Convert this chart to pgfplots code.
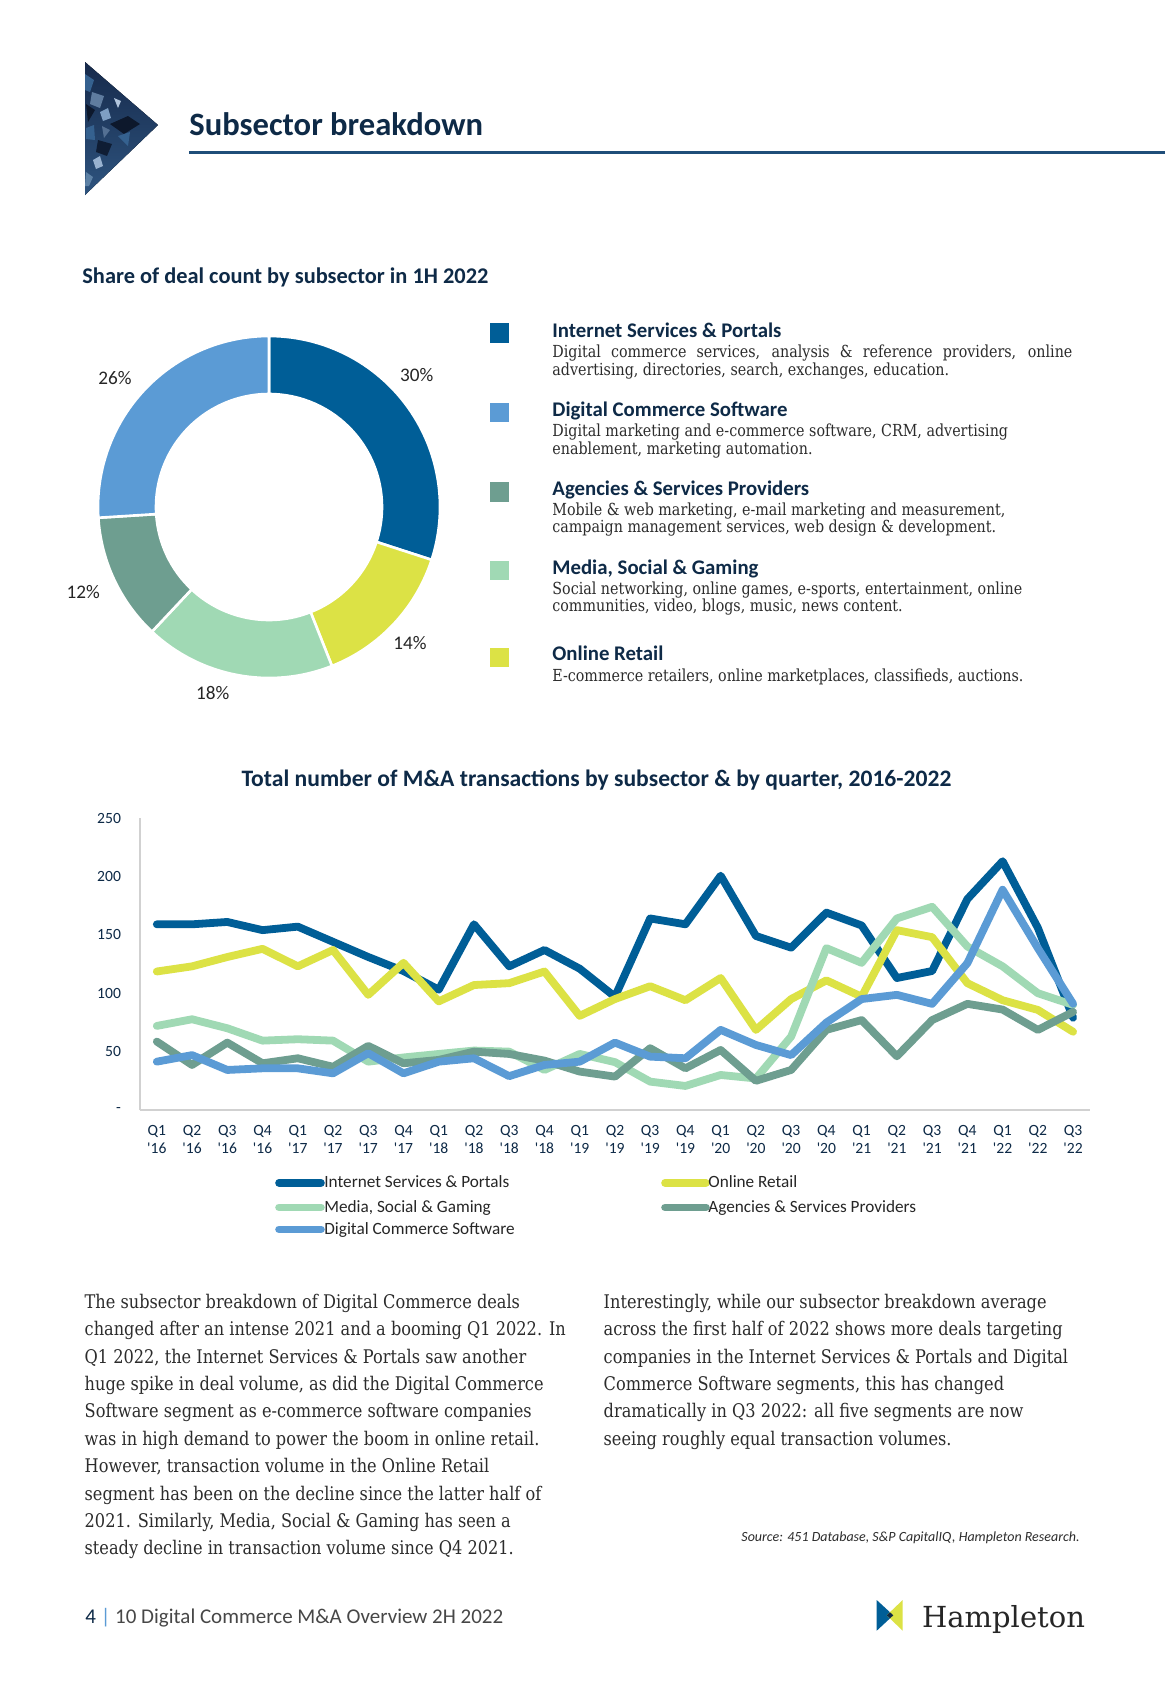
\documentclass[border=0pt]{standalone}
\usepackage{pgfplots}
\pgfplotsset{compat=1.18}
\usepackage{pgfplotstable}
\usepackage{fontspec}
\setmainfont{DejaVu Serif}
\setsansfont{Carlito}
\newfontfamily\bodyfont{DejaVu Serif}[FakeStretch=0.86]
\newfontfamily\gill{Carlito}

\definecolor{cISP}{HTML}{005E97}
\definecolor{cDCS}{HTML}{5B9BD5}
\definecolor{cASP}{HTML}{6E9E90}
\definecolor{cMSG}{HTML}{A0D9B4}
\definecolor{cOR}{HTML}{DCE245}
\definecolor{navy}{HTML}{0E2A47}
\definecolor{bodygray}{HTML}{2C2C2C}
\definecolor{rulecol}{HTML}{1F4E79}
\definecolor{triA}{HTML}{16294A}
\definecolor{triB}{HTML}{35618F}
\definecolor{triC}{HTML}{7E9FC4}

% quarterly deal counts, Q1'16 (0) to Q3'22 (26)
\pgfplotstableread{
q   isp    retail media  agency dcs
0   159    118.6  72     58.6   41.4
1   159    123    77.7   38.6   47
2   161    131    70     57.7   34.3
3   154    138    59.4   40     35.7
4   157    123    60.6   44.3   35.7
5   144    137    59.4   37     31.4
6   131    98.6   41.4   54.9   48.6
7   119    126    45     40     31.4
8   103    93     48     42.9   41.4
9   159    107    50.9   50     44.3
10  123    108.6  50     48     29
11  137    118.6  34.3   42.3   38.6
12  121    80.6   48     32.9   41.4
13  97     95     41     28.6   57.7
14  164    106    24.3   52.9   45.7
15  159    94     20.6   35.7   44.3
16  200.6  113    30     51.4   68.6
17  149    68.6   27     25     55.7
18  139    95     62.9   34.3   47
19  169    111    138.6  68.6   74.9
20  158    97     126    77     95
21  113    154    164    46     98.6
22  119    148    174    77     90.9
23  180.6  108.6  140    90.9   125.7
24  213    94     123    86     188.6
25  156    85.7   100    68.6   138.6
26  79     67     90     84     90.9
}\quarters

% donut slice: colour, cumulative share before it, its share (percent)
\newcommand{\slice}[3]{%
  \fill[#1, draw=white, line width=1.3pt]
    ([shift={({90-3.6*#2}:85.5pt)}]O)
    arc[start angle={90-3.6*#2}, end angle={90-3.6*(#2+#3)}, radius=85.5pt]
    -- ([shift={({90-3.6*(#2+#3)}:56.5pt)}]O)
    arc[start angle={90-3.6*(#2+#3)}, end angle={90-3.6*#2}, radius=56.5pt]
    -- cycle;}

\begin{document}
\begin{tikzpicture}
\begin{scope}[x=0.5pt, y=-0.5pt]
\path[use as bounding box, fill=white] (0,0) rectangle (1165,1683);

% header triangle (mosaic suggested by a few patches)
\begin{scope}
\clip (85,62) -- (158,125) -- (85,195) -- cycle;
\fill[top color=triA, bottom color=triB!80!triA] (80,60) rectangle (160,200);
\fill[triB] (85,74) -- (94,80) -- (90,92) -- (85,90) -- cycle;
\fill[triC!70!triA] (92,92) -- (104,96) -- (100,108) -- (90,104) -- cycle;
\fill[triC] (100,112) -- (108,108) -- (111,118) -- (103,121) -- cycle;
\fill[triA!60!black] (110,124) -- (128,116) -- (140,124) -- (124,134) -- cycle;
\fill[triB] (86,128) -- (94,125) -- (95,140) -- (86,139) -- cycle;
\fill[triC!80!white] (93,160) -- (100,156) -- (103,166) -- (96,169) -- cycle;
\fill[triA!70!black] (98,140) -- (112,144) -- (107,156) -- (96,152) -- cycle;
\fill[triB!80!white] (86,172) -- (93,177) -- (89,186) -- (85,186) -- cycle;
\fill[triC!60!white] (114,98) -- (121,101) -- (118,108) -- cycle;
\fill[triA!60!black] (86,104) -- (95,110) -- (88,122) -- cycle;
\fill[triB] (118,136) -- (130,132) -- (128,146) -- cycle;
\fill[triC!60!triA] (102,126) -- (110,130) -- (104,138) -- cycle;
\end{scope}

% page title and rule
\node[anchor=base west, inner sep=0pt, text=navy, font=\gill\bfseries\fontsize{16.3}{19}\selectfont]
  at (189,135) {Subsector breakdown};
\draw[rulecol, line width=1.6pt] (189,152.7) -- (1165,152.7);

% donut title
\node[anchor=base west, inner sep=0pt, text=navy, font=\gill\bfseries\fontsize{11.2}{13}\selectfont]
  at (82,283.3) {Share of deal count by subsector in 1H 2022};

% donut legend
\fill[cISP] (490,323.2) rectangle (509.3,342.5);
\fill[cDCS] (490,402.7) rectangle (509.3,422);
\fill[cASP] (490,482.2) rectangle (509.3,501.5);
\fill[cMSG] (490,560.5) rectangle (509.3,579.8);
\fill[cOR]  (490,647.5) rectangle (509.3,666.8);
\tikzset{head/.style={anchor=base west, inner sep=0pt, text=navy, font=\gill\bfseries\fontsize{10.4}{12}\selectfont},
         desc/.style={anchor=base west, inner sep=0pt, text=bodygray, font=\bodyfont\fontsize{8.3}{10}\selectfont}}
\node[head] at (552,337.3) {Internet Services \& Portals};
\node[desc] at (552,357.3) {\makebox[260pt][s]{Digital commerce services, analysis \& reference providers, online}};
\node[desc] at (552,375.0) {advertising, directories, search, exchanges, education.};
\node[head] at (552,416.7) {Digital Commerce Software};
\node[desc] at (552,436.7) {Digital marketing and e-commerce software, CRM, advertising};
\node[desc] at (552,454.4) {enablement, marketing automation.};
\node[head] at (552,495.0) {Agencies \& Services Providers};
\node[desc] at (552,515.0) {Mobile \& web marketing, e-mail marketing and measurement,};
\node[desc] at (552,532.7) {campaign management services, web design \& development.};
\node[head] at (552,574.0) {Media, Social \& Gaming};
\node[desc] at (552,594.0) {Social networking, online games, e-sports, entertainment, online};
\node[desc] at (552,611.7) {communities, video, blogs, music, news content.};
\node[head] at (552,660.7) {Online Retail};
\node[desc] at (552,681.7) {E-commerce retailers, online marketplaces, classifieds, auctions.};

% line chart title
\node[anchor=base, inner sep=0pt, text=navy, font=\gill\bfseries\fontsize{11.8}{14}\selectfont]
  at (596.5,786.7) {Total number of M\&A transactions by subsector \& by quarter, 2016-2022};

% line chart legend
\tikzset{lg/.style={line width=3.8pt, line cap=round},
         lgt/.style={anchor=base west, inner sep=0pt, text=black!85, font=\gill\fontsize{8.6}{10}\selectfont}}
\draw[lg, cISP] (279,1182.7) -- (321,1182.7);
\node[lgt] at (324,1187.4) {Internet Services \& Portals};
\draw[lg, cOR] (665,1182.7) -- (706,1182.7);
\node[lgt] at (708,1187.4) {Online Retail};
\draw[lg, cMSG] (279,1207.3) -- (321,1207.3);
\node[lgt] at (324,1212.0) {Media, Social \& Gaming};
\draw[lg, cASP] (665,1207.3) -- (706,1207.3);
\node[lgt] at (708,1212.0) {Agencies \& Services Providers};
\draw[lg, cDCS] (279,1229.3) -- (321,1229.3);
\node[lgt] at (324,1234.0) {Digital Commerce Software};

% commentary
\tikzset{bt/.style={anchor=base west, inner sep=0pt, text=bodygray, font=\bodyfont\fontsize{9.4}{11}\selectfont}}
\foreach \t [count=\i from 0] in {
  {The subsector breakdown of Digital Commerce deals},
  {changed after an intense 2021 and a booming Q1 2022. In},
  {Q1 2022, the Internet Services \& Portals saw another},
  {huge spike in deal volume, as did the Digital Commerce},
  {Software segment as e-commerce software companies},
  {was in high demand to power the boom in online retail.},
  {However, transaction volume in the Online Retail},
  {segment has been on the decline since the latter half of},
  {2021. Similarly, Media, Social \& Gaming has seen a},
  {steady decline in transaction volume since Q4 2021.}}
  \node[bt] at (84.3,{1308.3+27.4*\i}) {\t};
\foreach \t [count=\i from 0] in {
  {Interestingly, while our subsector breakdown average},
  {across the first half of 2022 shows more deals targeting},
  {companies in the Internet Services \& Portals and Digital},
  {Commerce Software segments, this has changed},
  {dramatically in Q3 2022: all five segments are now},
  {seeing roughly equal transaction volumes.}}
  \node[bt] at (603.3,{1308.3+27.4*\i}) {\t};

\node[anchor=base east, inner sep=0pt, text=bodygray, font=\gill\itshape\fontsize{7}{8}\selectfont]
  at (1080,1541.7) {Source: 451 Database, S\&P CapitalIQ, Hampleton Research.};

% footer
\node[anchor=base west, inner sep=0pt, text=black!72, font=\gill\fontsize{10.5}{12}\selectfont]
  at (85,1623.3) {{\color{navy}4} {\color{cDCS}|} 10 Digital Commerce M\&A Overview 2H 2022};
\fill[cISP] (876.7,1600) -- (893.3,1615.3) -- (876.7,1630.7) -- cycle;
\fill[cOR] (902.7,1600) -- (886.7,1615.3) -- (902.7,1630.7) -- cycle;
\fill[navy] (886.7,1615.3) -- (890,1612.3) -- (893.3,1615.3) -- (890,1618.3) -- cycle;
\node[anchor=base west, inner sep=0pt, text=black!85, font=\fontsize{14.5}{16}\selectfont]
  at (921.7,1627.3) {Hampleton};
\end{scope}

% donut chart
\begin{axis}[at={(134.5pt,-253.5pt)}, anchor=center,
  width=171pt, height=171pt, scale only axis, hide axis,
  xmin=-1, xmax=1, ymin=-1, ymax=1, clip=false]
\coordinate (O) at (axis cs:0,0);
\slice{cISP}{0}{30}
\slice{cOR}{30}{14}
\slice{cMSG}{44}{18}
\slice{cASP}{62}{12}
\slice{cDCS}{74}{26}
\tikzset{pl/.style={font=\gill\fontsize{9.6}{11}\selectfont, text=black!85}}
\node[pl] at (axis cs:0.864,0.772) {30\%};
\node[pl] at (axis cs:0.825,-0.797) {14\%};
\node[pl] at (axis cs:-0.329,-1.090) {18\%};
\node[pl] at (axis cs:-1.086,-0.495) {12\%};
\node[pl] at (axis cs:-0.901,0.752) {26\%};
\end{axis}

% quarterly line chart
\begin{axis}[at={(70pt,-555pt)}, anchor=south west,
  width=475pt, height=146pt, scale only axis,
  xmin=-0.477, xmax=26.48, ymin=0, ymax=250,
  axis x line*=bottom, axis y line*=left,
  axis line style={-, draw=black!18, line width=0.9pt},
  major tick length=0pt,
  xtick={0,...,26},
  xticklabels={{Q1\\'16},{Q2\\'16},{Q3\\'16},{Q4\\'16},
               {Q1\\'17},{Q2\\'17},{Q3\\'17},{Q4\\'17},
               {Q1\\'18},{Q2\\'18},{Q3\\'18},{Q4\\'18},
               {Q1\\'19},{Q2\\'19},{Q3\\'19},{Q4\\'19},
               {Q1\\'20},{Q2\\'20},{Q3\\'20},{Q4\\'20},
               {Q1\\'21},{Q2\\'21},{Q3\\'21},{Q4\\'21},
               {Q1\\'22},{Q2\\'22},{Q3\\'22}},
  ytick={0,50,...,250},
  yticklabels={-,50,100,150,200,250},
  x tick label style={font=\gill\fontsize{7.8}{9}\selectfont, text=navy, align=center, yshift=-4pt},
  y tick label style={font=\gill\fontsize{7.8}{9}\selectfont, text=navy, xshift=-6pt},
  clip=false,
  every axis plot/.append style={line width=3.9pt, line join=round, line cap=round}]
\addplot[cISP] table[x=q, y=isp] {\quarters};
\addplot[cOR] table[x=q, y=retail] {\quarters};
\addplot[cMSG] table[x=q, y=media] {\quarters};
\addplot[cASP] table[x=q, y=agency] {\quarters};
\addplot[cDCS] table[x=q, y=dcs] {\quarters};
\end{axis}
\end{tikzpicture}
\end{document}
